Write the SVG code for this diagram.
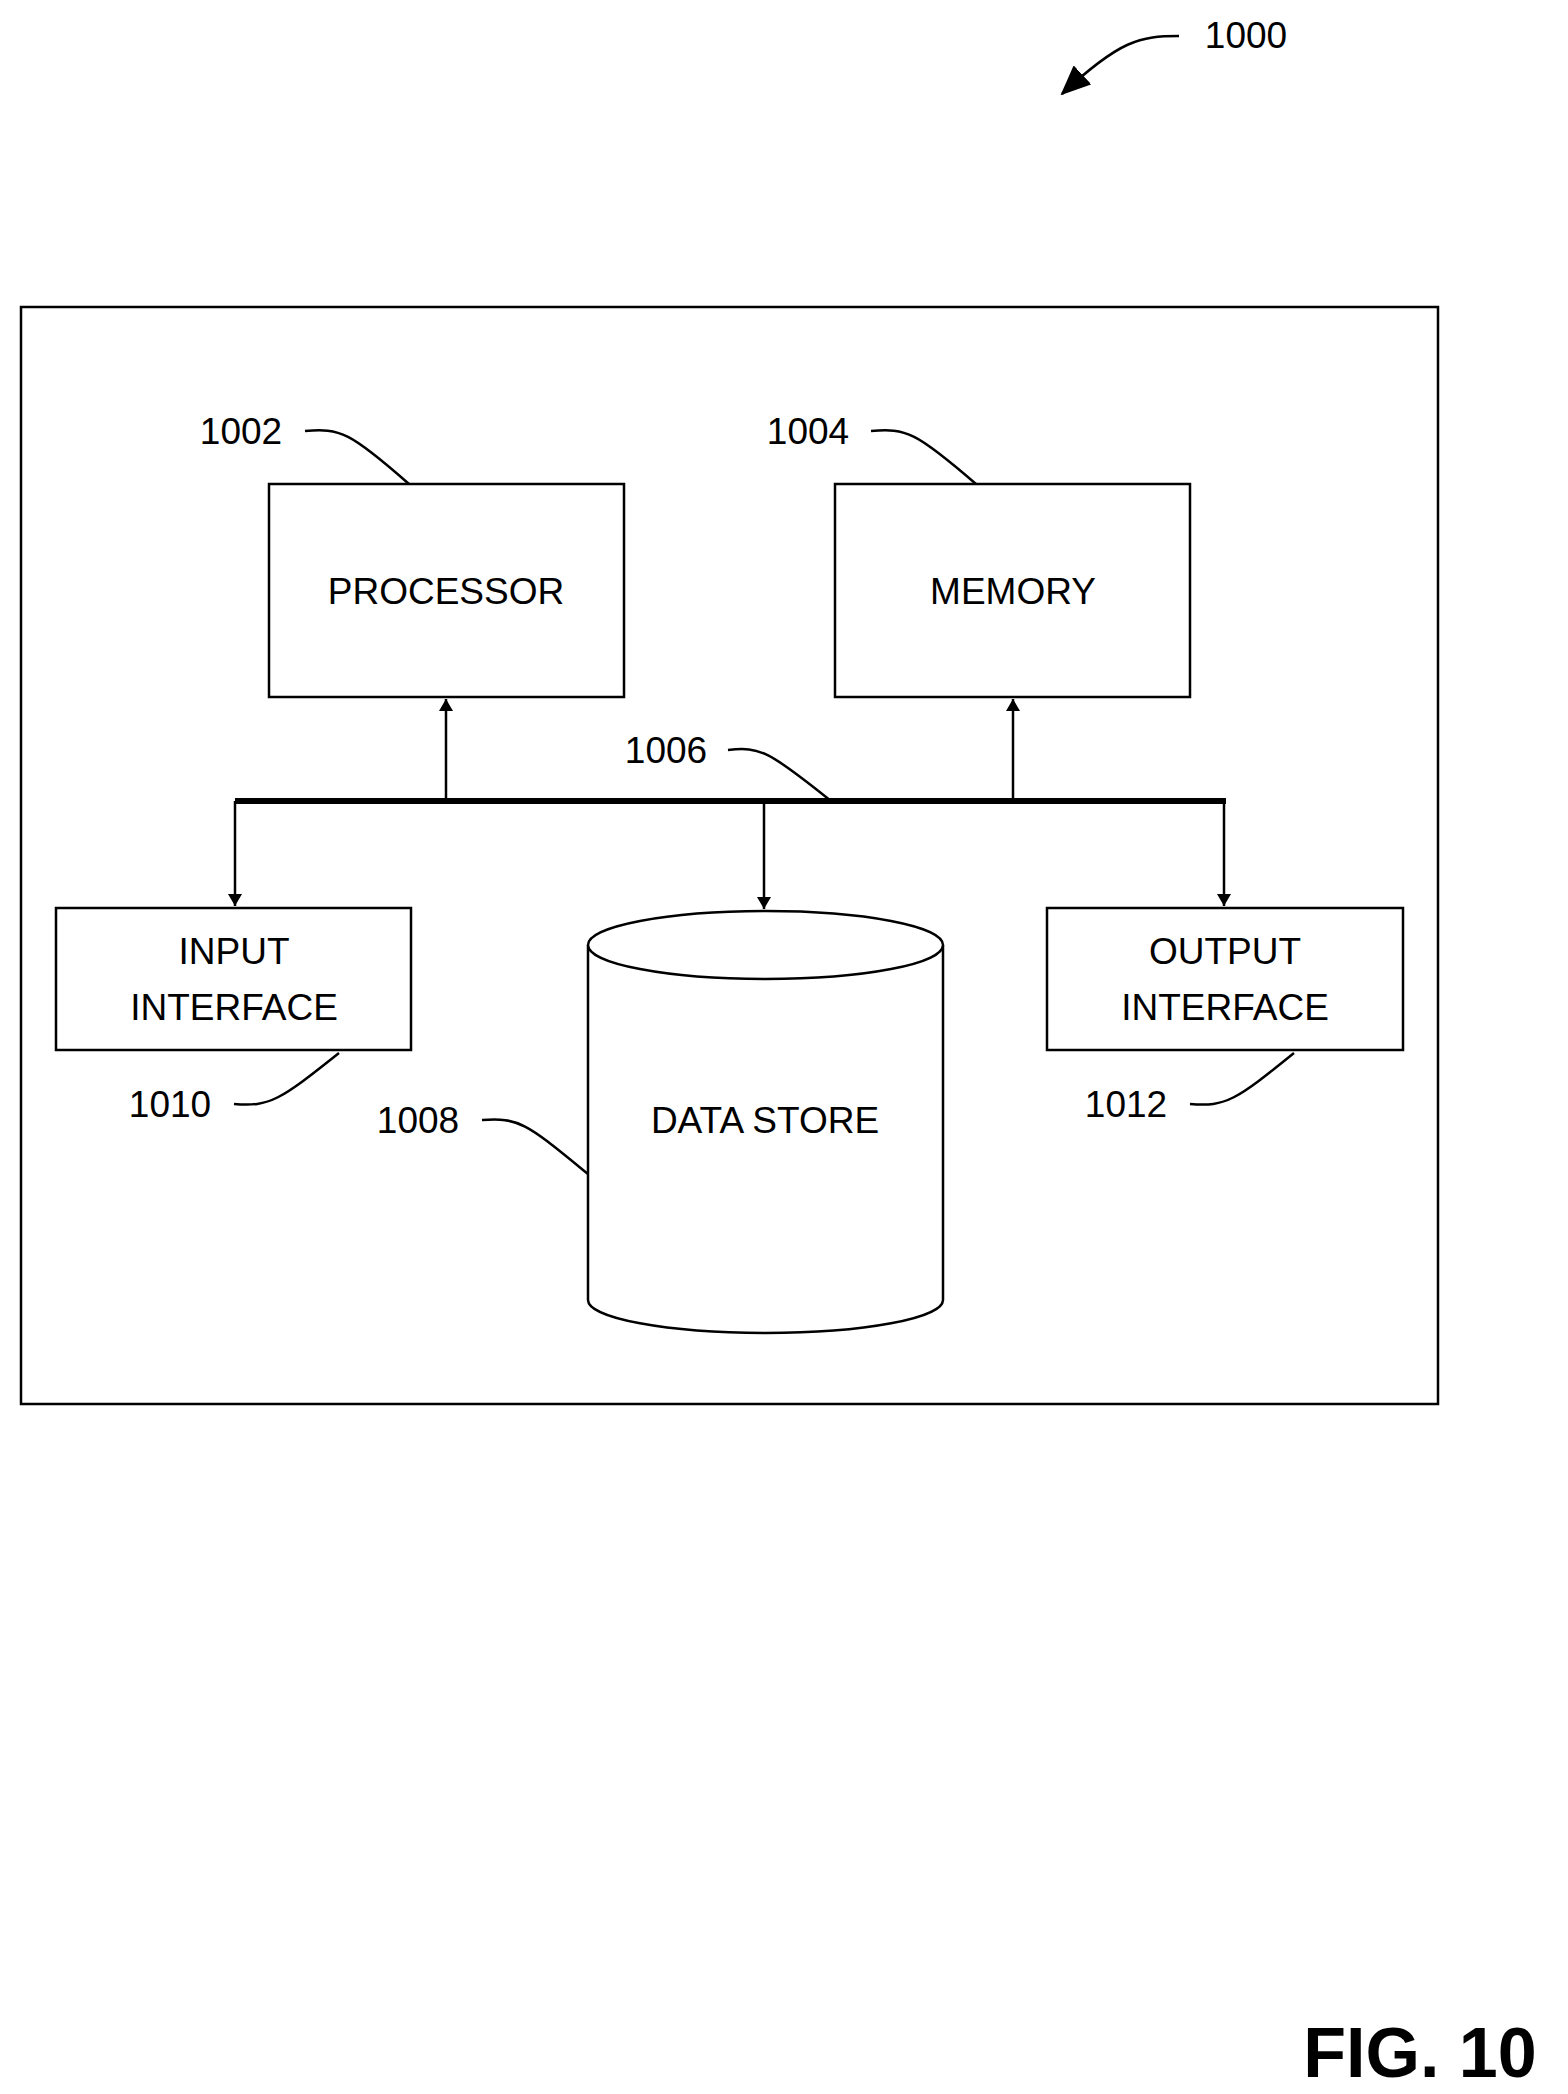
<svg xmlns="http://www.w3.org/2000/svg" width="1568" height="2094" viewBox="0 0 1568 2094">
<style>
.b{fill:#fff;stroke:#000;stroke-width:2.5}
.t{font-family:"Liberation Sans",Arial,sans-serif;font-size:37px;text-anchor:middle}
.l{fill:none;stroke:#000;stroke-width:2.5}
.a{fill:none;stroke:#000;stroke-width:2.5;marker-end:url(#ah)}
</style>
<defs>
<marker id="ah" markerWidth="12" markerHeight="14" refX="12" refY="7" orient="auto" markerUnits="userSpaceOnUse" viewBox="0 0 12 14"><path d="M0,0 L12,7 L0,14 z" fill="#000"/></marker>
<marker id="ah2" markerWidth="30" markerHeight="26" refX="28" refY="13" orient="auto" markerUnits="userSpaceOnUse" viewBox="0 0 30 26"><path d="M0,0 L30,13 L0,26 z" fill="#000"/></marker>
</defs>
<rect x="0" y="0" width="1568" height="2094" fill="#fff"/>
<g id="fig1000">
<path d="M1179,36 C1140,36 1120,40 1062,94" fill="none" stroke="#000" stroke-width="2.5" marker-end="url(#ah2)"/>
<text class="t" x="1246" y="48">1000</text>
</g>
<g id="outer"><rect class="b" x="21" y="307" width="1417" height="1097"/></g>
<g id="connectors">
<line x1="235" y1="801" x2="1226" y2="801" stroke="#000" stroke-width="6"/>
<line class="a" x1="446" y1="801" x2="446" y2="699"/>
<line class="a" x1="1013" y1="801" x2="1013" y2="699"/>
<line class="a" x1="235" y1="801" x2="235" y2="906"/>
<line class="a" x1="764" y1="801" x2="764" y2="909"/>
<line class="a" x1="1224" y1="801" x2="1224" y2="906"/>
<path class="l" d="M728,750 C760,746 770,752 831,801"/>
</g>
<g id="processor"><rect class="b" x="269" y="484" width="355" height="213"/><text class="t" x="446" y="604">PROCESSOR</text>
<text class="t" x="241" y="444">1002</text><path class="l" d="M305,431 C340,428 350,432 409,484"/></g>
<g id="memory"><rect class="b" x="835" y="484" width="355" height="213"/><text class="t" x="1013" y="604">MEMORY</text>
<text class="t" x="808" y="444">1004</text><path class="l" d="M871,431 C906,428 916,432 976,484"/></g>
<text class="t" x="666" y="763">1006</text>
<g id="input"><rect class="b" x="56" y="908" width="355" height="142"/><text class="t" x="234" y="964">INPUT</text><text class="t" x="234" y="1020">INTERFACE</text>
<text class="t" x="170" y="1117">1010</text><path class="l" d="M234,1104 C270,1107 280,1100 339,1053"/></g>
<g id="output"><rect class="b" x="1047" y="908" width="356" height="142"/><text class="t" x="1225" y="964">OUTPUT</text><text class="t" x="1225" y="1020">INTERFACE</text>
<text class="t" x="1126" y="1117">1012</text><path class="l" d="M1190,1104 C1226,1107 1236,1100 1294,1053"/></g>
<g id="datastore">
<path class="b" d="M588,945 L588,1300 A177.5,33 0 0 0 943,1300 L943,945"/>
<ellipse class="b" cx="765.5" cy="945" rx="177.5" ry="34"/>
<text class="t" x="765" y="1133">DATA STORE</text>
<text class="t" x="418" y="1133">1008</text><path class="l" d="M482,1120 C520,1117 528,1125 588,1174"/>
</g>
<text x="1420" y="2077" font-family="'Liberation Sans',Arial,sans-serif" font-size="70" font-weight="bold" text-anchor="middle">FIG. 10</text>
</svg>
